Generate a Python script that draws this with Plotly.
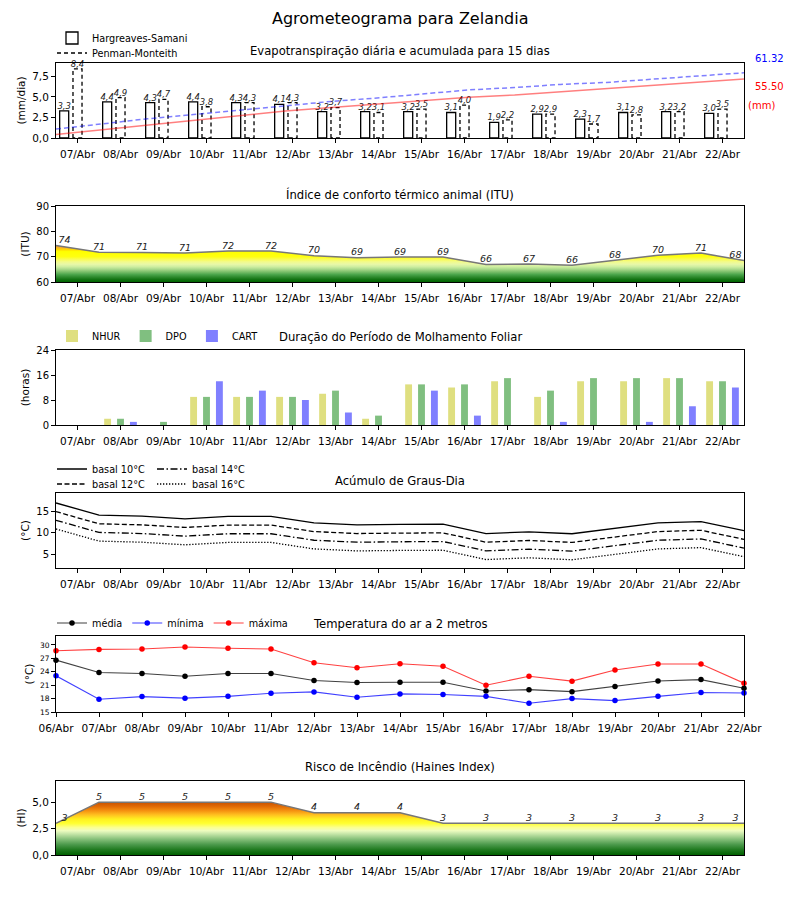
import numpy as np
import plotly.graph_objects as go

# ---------------- data ----------------
days = ["07/Abr", "08/Abr", "09/Abr", "10/Abr", "11/Abr", "12/Abr", "13/Abr", "14/Abr",
        "15/Abr", "16/Abr", "17/Abr", "18/Abr", "19/Abr", "20/Abr", "21/Abr", "22/Abr"]
temp_days = ["06/Abr"] + days

et_hs = [3.3, 4.4, 4.3, 4.4, 4.3, 4.1, 3.2, 3.2, 3.2, 3.1, 1.9, 2.9, 2.3, 3.1, 3.2, 3.0]
et_pm = [8.4, 4.9, 4.7, 3.8, 4.3, 4.3, 3.7, 3.1, 3.5, 4.0, 2.2, 2.9, 1.7, 2.8, 3.2, 3.5]
et_hs_acum = [3.3, 7.8, 12.2, 16.7, 21.1, 25.3, 28.6, 31.9, 35.2, 38.4, 40.4, 43.4, 45.8, 49.0, 52.3, 55.50]
et_pm_acum = [8.4, 13.4, 18.1, 22.0, 26.3, 30.7, 34.4, 37.6, 41.1, 45.2, 47.4, 50.4, 52.2, 55.0, 58.3, 61.32]

itu = [74.4, 71.7, 71.6, 71.4, 72.2, 72.2, 70.4, 69.6, 69.9, 69.9, 66.9, 67.1, 66.6, 68.6, 70.6, 71.4, 68.5]

nhur = [0, 2, 0, 9, 9, 9, 10, 2, 13, 12, 14, 9, 14, 14, 15, 14]
dpo = [0, 2, 1, 9, 9, 9, 11, 3, 13, 13, 15, 11, 15, 15, 15, 14]
cart = [0, 1, 0, 14, 11, 8, 4, 0, 11, 3, 0, 1, 0, 1, 6, 12]

gd_b10 = [16.9, 14.1, 13.85, 13.25, 13.8, 13.8, 12.3, 11.85, 11.95, 12.0, 9.85, 10.25, 9.8, 11.0, 12.3, 12.6, 10.5]
gd_b12 = [14.9, 12.1, 11.85, 11.25, 11.8, 11.8, 10.3, 9.85, 9.95, 10.0, 7.85, 8.25, 7.8, 9.0, 10.3, 10.6, 8.5]
gd_b14 = [12.9, 10.1, 9.85, 9.25, 9.8, 9.8, 8.3, 7.85, 7.95, 8.0, 5.85, 6.25, 5.8, 7.0, 8.3, 8.6, 6.5]
gd_b16 = [10.9, 8.1, 7.85, 7.25, 7.8, 7.8, 6.3, 5.85, 5.95, 6.0, 3.85, 4.25, 3.8, 5.0, 6.3, 6.6, 4.5]

t_media = [26.6, 23.85, 23.6, 23.0, 23.6, 23.6, 22.05, 21.6, 21.65, 21.65, 19.7, 20.0, 19.55, 20.7, 21.95, 22.25, 20.3]
t_min = [23.1, 17.85, 18.45, 18.1, 18.5, 19.2, 19.5, 18.3, 19.05, 18.9, 18.5, 16.95, 18.0, 17.55, 18.5, 19.35, 19.25]
t_max = [28.7, 29.0, 29.1, 29.55, 29.25, 29.1, 26.0, 24.9, 25.8, 25.25, 21.0, 23.0, 21.9, 24.4, 25.75, 25.75, 21.45]

haines = [3, 5, 5, 5, 5, 5, 4, 4, 4, 3, 3, 3, 3, 3, 3, 3, 3]

# ---------------- layout helpers ----------------
OFF = 8                     # page body margin
W, H = 800 - OFF, 900 - OFF
FONT = "DejaVu Sans"


def px(x):
    return (x - OFF) / W


def py(y):
    return 1 - (y - OFF) / H


xdom = [px(56), px(744)]


def ydom(top, bottom):
    return [py(bottom), py(top)]


centers = np.arange(len(days))
edges = np.arange(len(days) + 1) - 0.5
lab_x = np.clip(edges, -0.3, 15.3)

fig = go.Figure()

# ---- Panel 1: evapotranspiration ----
bw = 0.21
fig.add_trace(go.Bar(x=centers - 0.31, y=et_hs, width=bw,
                     marker=dict(color="white", line=dict(color="black", width=1.3)),
                     name="Hargreaves-Samani", xaxis="x", yaxis="y", legend="legend"))
ox, oy = [], []
for x, v in zip(centers, et_pm):
    ox += [x - bw / 2, x - bw / 2, x + bw / 2, x + bw / 2, x - bw / 2, None]
    oy += [0, v, v, 0, 0, None]
fig.add_trace(go.Scatter(x=ox, y=oy, mode="lines", line=dict(color="black", width=1.3, dash="4px,3px"),
                         name="Penman-Monteith", xaxis="x", yaxis="y", legend="legend6"))
fig.add_trace(go.Scatter(x=centers - 0.31, y=et_hs, mode="text", texttemplate="%{y:.1f}",
                         textposition="top center", cliponaxis=False, showlegend=False,
                         textfont=dict(size=8.5, style="italic", color="#222"), xaxis="x", yaxis="y"))
fig.add_trace(go.Scatter(x=centers, y=et_pm, mode="text", texttemplate="%{y:.1f}",
                         textposition="top center", cliponaxis=False, showlegend=False,
                         textfont=dict(size=8.5, style="italic", color="#222"), xaxis="x", yaxis="y"))
acc_x = np.arange(len(et_hs_acum))
fig.add_trace(go.Scatter(x=acc_x, y=et_hs_acum, mode="lines", line=dict(color="rgba(255,0,0,0.5)", width=1.5),
                         showlegend=False, xaxis="x7", yaxis="y7"))
fig.add_trace(go.Scatter(x=acc_x, y=et_pm_acum, mode="lines",
                         line=dict(color="rgba(0,0,255,0.5)", width=1.5, dash="5px,3px"),
                         showlegend=False, xaxis="x7", yaxis="y7"))

# ---- Panel 2: ITU ----
itu_scale_vals = [60, 61, 62, 63, 64, 65, 66, 67, 68, 69, 70, 72, 72.8, 73.5, 74.5, 76]
itu_scale_cols = ["#006400", "#127312", "#2e8b2e", "#4ca64c", "#7bbf6a", "#a8d88a", "#cdeea0",
                  "#e8f8a8", "#f2fb8a", "#fafc50", "#ffff10", "#ffff00", "#ffd800", "#f8b428",
                  "#ec9420", "#e07010"]
lo, hi = itu_scale_vals[0], itu_scale_vals[-1]
itu_cs = [[(v - lo) / (hi - lo), c] for v, c in zip(itu_scale_vals, itu_scale_cols)]
fig.add_trace(go.Scatter(x=edges, y=itu, mode="lines", fill="tozeroy",
                         fillgradient=dict(type="vertical", colorscale=itu_cs, start=lo, stop=hi),
                         line=dict(color="#777777", width=1.5), showlegend=False,
                         xaxis="x2", yaxis="y2"))
fig.add_trace(go.Scatter(x=lab_x, y=itu, mode="text", text=[str(int(v)) for v in itu],
                         textposition="top center", cliponaxis=False, showlegend=False,
                         textfont=dict(size=9.5, style="italic", color="#222"), xaxis="x2", yaxis="y2"))

# ---- Panel 3: leaf wetness ----
for vals, nm, col, off in [(nhur, "NHUR", "#dfdf80", -0.3), (dpo, "DPO", "#80bf80", 0.0),
                           (cart, "CART", "#8080ff", 0.3)]:
    fig.add_trace(go.Bar(x=centers + off, y=vals, width=0.16, marker=dict(color=col, line=dict(width=0)),
                         name=nm, xaxis="x3", yaxis="y3", legend="legend2"))

# ---- Panel 4: degree days ----
for vals, nm, dash, lg in [(gd_b10, "basal 10°C", "solid", "legend3"), (gd_b14, "basal 14°C", "7px,2.5px,1.5px,2.5px", "legend3"),
                           (gd_b12, "basal 12°C", "5px,2.5px", "legend4"), (gd_b16, "basal 16°C", "1.3px,1.7px", "legend4")]:
    fig.add_trace(go.Scatter(x=edges, y=vals, mode="lines", line=dict(color="black", width=1.3, dash=dash),
                             name=nm, xaxis="x4", yaxis="y4", legend=lg))

# ---- Panel 5: temperature ----
for vals, nm, col, lcol in [(t_media, "média", "black", "rgba(0,0,0,0.75)"),
                            (t_min, "mínima", "blue", "rgba(0,0,255,0.75)"),
                            (t_max, "máxima", "red", "rgba(255,0,0,0.75)")]:
    fig.add_trace(go.Scatter(x=edges, y=vals, mode="lines+markers", line=dict(color=lcol, width=1.1),
                             marker=dict(color=col, size=5.5), name=nm, xaxis="x5", yaxis="y5",
                             legend="legend5", cliponaxis=False))

# ---- Panel 6: Haines ----
hn_scale_vals = [0, 0.5, 1.0, 1.5, 2.0, 2.3, 2.6, 3.0, 3.4, 3.8, 4.2, 4.6, 5.0]
hn_scale_cols = ["#006000", "#1f7a1f", "#4c9a4c", "#86c07a", "#c6e6a8", "#eefcc0", "#fbff90",
                 "#ffff30", "#fff020", "#ffc020", "#f59010", "#e06a05", "#c85200"]
lo, hi = hn_scale_vals[0], hn_scale_vals[-1]
hn_cs = [[(v - lo) / (hi - lo), c] for v, c in zip(hn_scale_vals, hn_scale_cols)]
fig.add_trace(go.Scatter(x=edges, y=haines, mode="lines", fill="tozeroy",
                         fillgradient=dict(type="vertical", colorscale=hn_cs, start=lo, stop=hi),
                         line=dict(color="#777777", width=1.5), showlegend=False,
                         xaxis="x6", yaxis="y6"))
fig.add_trace(go.Scatter(x=lab_x, y=haines, mode="text", text=[str(int(v)) for v in haines],
                         textposition="top center", cliponaxis=False, showlegend=False,
                         textfont=dict(size=9.5, style="italic", color="#222"), xaxis="x6", yaxis="y6"))

# ---------------- axes ----------------
tickfont = dict(size=10.5, color="black", family=FONT)
common_x = dict(domain=xdom, range=[-0.5, 15.5], showline=True, mirror=True, linecolor="black",
                linewidth=1, ticks="outside", ticklen=4, tickcolor="black", tickfont=tickfont,
                ticklabelstandoff=2,
                showgrid=False, zeroline=False, fixedrange=True, automargin=False)
common_y = dict(showline=True, mirror=True, linecolor="black", linewidth=1, ticks="outside", ticklen=4,
                tickcolor="black", showgrid=False, zeroline=False, fixedrange=True, automargin=False,
                title_font=dict(size=10.5, color="black", family=FONT), title_standoff=4)

panels = {1: (63, 138), 2: (206, 282), 3: (350, 425), 4: (493, 568), 5: (636, 712), 6: (781, 855)}
yspecs = {
    1: dict(range=[0, 9.12], tickvals=[0, 2.5, 5, 7.5], tickformat=".1f", title_text="(mm/dia)",
            tickfont=dict(size=10.5, color="black")),
    2: dict(range=[60, 90], tickvals=[60, 70, 80, 90], title_text="(ITU)", tickfont=dict(size=10, color="black")),
    3: dict(range=[0, 24], tickvals=[0, 8, 16, 24], title_text="(horas)", tickfont=dict(size=10, color="black")),
    4: dict(range=[1.9, 19.2], tickvals=[5, 10, 15], title_text="(°C)", tickfont=dict(size=10, color="black")),
    5: dict(range=[15, 32], tickvals=[15, 18, 21, 24, 27, 30], title_text="(°C)",
            tickfont=dict(size=7.5, color="black")),
    6: dict(range=[0, 7], tickvals=[0, 2.5, 5], tickformat=".1f", title_text="(HI)",
            tickfont=dict(size=10.5, color="black")),
}
lay = {}
for i in range(1, 7):
    xn = "xaxis" if i == 1 else f"xaxis{i}"
    yn = "yaxis" if i == 1 else f"yaxis{i}"
    anchor_y = "y" if i == 1 else f"y{i}"
    anchor_x = "x" if i == 1 else f"x{i}"
    xa = dict(common_x, anchor=anchor_y)
    if i == 5:
        xa.update(tickvals=list(edges), ticktext=temp_days)
    else:
        xa.update(tickvals=list(centers), ticktext=days)
    lay[xn] = xa
    ya = dict(common_y, anchor=anchor_x, domain=ydom(*panels[i]))
    ya.update(yspecs[i])
    lay[yn] = ya

lay["xaxis7"] = dict(overlaying="x", range=[0, 15], visible=False, anchor="y7", fixedrange=True)
lay["yaxis7"] = dict(overlaying="y", range=[0, 70.5], visible=False, anchor="x7", side="right", fixedrange=True)

leg_common = dict(bgcolor="rgba(0,0,0,0)", font=dict(size=9.7, color="black", family=FONT),
                  tracegroupgap=0, itemclick=False, itemdoubleclick=False, orientation="h",
                  xanchor="left", yanchor="middle")
lay["legend"] = dict(leg_common, x=px(52), y=py(38))
lay["legend6"] = dict(leg_common, x=px(52), y=py(53))
lay["legend2"] = dict(leg_common, x=px(52), y=py(336))
lay["legend3"] = dict(leg_common, x=px(52), y=py(469), entrywidth=55)
lay["legend4"] = dict(leg_common, x=px(52), y=py(484), entrywidth=55)
lay["legend5"] = dict(leg_common, x=px(52), y=py(623))


def ann(text, x, y, size, color="black", xanchor="center"):
    return dict(text=text, x=px(x), y=py(y), xref="paper", yref="paper", showarrow=False,
                xanchor=xanchor, yanchor="middle", font=dict(size=size, color=color, family=FONT))


annotations = [
    ann("Agrometeograma para Zelandia", 400, 18, 16),
    ann("Evapotranspiração diária e acumulada para 15 dias", 400, 51, 11.6),
    ann("Índice de conforto térmico animal (ITU)", 400, 194, 11.6),
    ann("Duração do Período de Molhamento Foliar", 400, 337, 11.6),
    ann("Acúmulo de Graus-Dia", 400, 481, 11.6),
    ann("Temperatura do ar a 2 metros", 400, 624, 11.6),
    ann("Risco de Incêndio (Haines Index)", 400, 767, 11.6),
    ann("61.32", 769, 58, 10, "#0000ff"),
    ann("55.50", 769, 87, 10, "#ff0000"),
    ann("(mm)", 761, 105, 10, "#ff0000"),
]

fig.update_layout(
    width=W, height=H, margin=dict(l=0, r=0, t=0, b=0),
    paper_bgcolor="white", plot_bgcolor="white",
    font=dict(family=FONT, color="black"),
    separators=",.", barmode="overlay", showlegend=True,
    annotations=annotations, hovermode=False,
    **lay,
)

fig.write_html("out.html")
